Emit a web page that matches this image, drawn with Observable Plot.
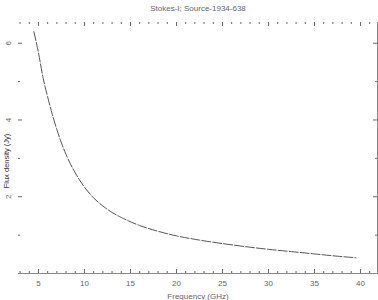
<!DOCTYPE html>
<html><head><meta charset="utf-8">
<script src="https://cdn.jsdelivr.net/npm/d3@7"></script>
<script src="https://cdn.jsdelivr.net/npm/@observablehq/plot@0.6"></script>
<style>html,body{margin:0;padding:0;background:#fff;}</style>
</head><body><div id="chart"></div>
<script>
const freq = [4.5, 5, 5.5, 6, 6.5, 7, 7.5, 8, 9, 10, 11, 12, 13, 14, 16, 18, 20, 22.5, 25, 27.5, 30, 32.5, 35, 37.5, 39.5];
const flux = [6.3, 5.75, 5.1, 4.6, 4.15, 3.75, 3.4, 3.1, 2.62, 2.25, 1.97, 1.76, 1.59, 1.46, 1.25, 1.1, 0.98, 0.87, 0.78, 0.7, 0.63, 0.57, 0.51, 0.45, 0.41];
const xMajor = [5, 10, 15, 20, 25, 30, 35, 40];
const xMinor = d3.range(3, 42).filter(v => v % 5 !== 0);
const yMajor = [2, 4, 6];
const yMinor = [1, 3, 5];
const title = "Stokes-I; Source-1934-638";
const xLabel = "Frequency (GHz)";
const yLabel = "Flux density (Jy)";

const data = freq.map((f, i) => ({f, s: flux[i]}));
const W = 378, H = 300, mt = 22, mb = 27, ml = 18, mr = 1;
const fh = H - mt - mb;
const fw = W - ml - mr;
const tc = "#666";
const txt = "#666";
const font = "Liberation Sans, Arial, sans-serif";

const chart = Plot.plot({
  width: W, height: H,
  marginTop: mt, marginBottom: mb, marginLeft: ml, marginRight: mr,
  style: {fontFamily: font, background: "#fff"},
  x: {domain: [2.83, 41.85], axis: null},
  y: {domain: [0, 6.54], axis: null},
  marks: [
    Plot.frame({anchor: "bottom", stroke: "#888"}),
    Plot.frame({anchor: "right", stroke: "#888"}),
    // bottom / top ticks
    Plot.tickX(xMajor, {x: d => d, insetTop: fh - 4, stroke: tc}),
    Plot.tickX(xMinor, {x: d => d, insetTop: fh - 2, stroke: tc}),
    Plot.tickX(xMajor, {x: d => d, insetBottom: fh - 4, stroke: tc}),
    Plot.tickX(xMinor, {x: d => d, insetBottom: fh - 2, stroke: tc}),
    // left / right ticks
    Plot.tickY(yMajor, {y: d => d, insetRight: fw - 4, stroke: tc}),
    Plot.tickY(yMinor, {y: d => d, insetRight: fw - 2, stroke: tc}),
    Plot.tickY(yMajor, {y: d => d, insetLeft: fw - 4, stroke: tc}),
    Plot.tickY(yMinor, {y: d => d, insetLeft: fw - 2, stroke: tc}),
    // tick labels
    Plot.text(xMajor, {x: d => d, frameAnchor: "bottom", lineAnchor: "middle", dy: 10, text: d => String(d), fontSize: 8, fill: txt}),
    Plot.text(yMajor, {y: d => d, frameAnchor: "left", textAnchor: "middle", lineAnchor: "middle", dx: -10, rotate: -90, text: d => String(d), fontSize: 8, fill: txt}),
    // curve
    Plot.line(data, {x: "f", y: "s", stroke: "#555", strokeWidth: 1, strokeDasharray: "9,2", curve: "monotone-x"}),
    // titles
    Plot.text([title], {frameAnchor: "top", lineAnchor: "middle", dy: -14, text: d => d, fontSize: 8, fill: txt}),
    Plot.text([xLabel], {frameAnchor: "bottom", lineAnchor: "middle", dy: 23, text: d => d, fontSize: 8, fill: txt}),
    Plot.text([yLabel], {frameAnchor: "left", textAnchor: "middle", lineAnchor: "middle", dx: -12, dy: 13, rotate: -90, text: d => d, fontSize: 7.5, fill: "#333"})
  ]
});
document.getElementById("chart").appendChild(chart);
</script>
</body></html>
